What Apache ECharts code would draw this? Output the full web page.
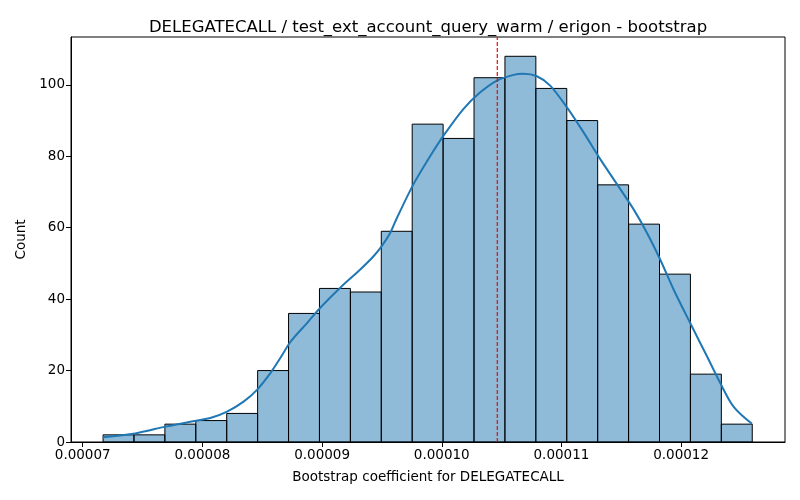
<!DOCTYPE html>
<html>
<head>
<meta charset="utf-8">
<script src="https://cdn.jsdelivr.net/npm/echarts@6/dist/echarts.min.js"></script>
<style>
  html, body { margin: 0; padding: 0; background: #fff; }
  #chart { width: 800px; height: 500px; }
</style>
</head>
<body>
<div id="chart"></div>
<script>
// histogram bins (equal width)
var binStart = 0.0000717;
var binWidth = 0.000002583;
var binCounts = [2, 2, 5, 6, 8, 20, 36, 43, 42, 59, 89, 85, 102, 108, 99, 90, 72, 61, 47, 19, 5];

// kde curve, x in units of 1e-5, y in counts
var kdeX = [7.170, 7.439, 7.690, 7.899, 8.066, 8.206, 8.344, 8.456, 8.568, 8.651, 8.735, 8.874,
            8.985, 9.152, 9.319, 9.430, 9.500, 9.570, 9.626, 9.764, 9.904, 10.015, 10.182, 10.322,
            10.461, 10.600, 10.683, 10.795, 10.906, 11.046, 11.185, 11.324, 11.464, 11.602, 11.714,
            11.825, 11.937, 12.076, 12.216, 12.327, 12.438, 12.592];
var kdeY = [1.3, 2.4, 4.3, 5.7, 6.7, 8.5, 11.3, 14.6, 19.3, 23.5, 28.0, 33.3,
            37.6, 43.2, 48.3, 52.0, 54.9, 58.6, 62.8, 72.2, 80.1, 85.8, 93.3, 97.9,
            101.2, 102.8, 103.1, 102.4, 99.8, 93.7, 86.7, 79.2, 72.2, 65.2, 58.6,
            51.1, 42.7, 33.3, 24.0, 16.5, 9.9, 5.1];

var meanLine = 0.00010464;

var xTicks = [0.00007, 0.00008, 0.00009, 0.00010, 0.00011, 0.00012];
var yTicks = [0, 20, 40, 60, 80, 100];

var yMax = 113.4;
var font = 'DejaVu Sans';

var barData = binCounts.map(function (c, i) {
    return [binStart + binWidth * i, binStart + binWidth * (i + 1), c];
});
var kdeData = kdeX.map(function (x, i) {
    return [x * 1e-5, kdeY[i]];
});

var chart = echarts.init(document.getElementById('chart'));

chart.setOption({
    animation: false,
    title: {
        text: 'DELEGATECALL / test_ext_account_query_warm / erigon - bootstrap',
        left: 423,
        top: 14,
        textAlign: 'center',
        textStyle: { fontFamily: font, fontSize: 16.5, fontWeight: 'normal', color: '#000' }
    },
    grid: {
        left: 71, right: 15, top: 37, bottom: 58,
        show: true, borderColor: '#000', borderWidth: 1, backgroundColor: 'transparent'
    },
    xAxis: {
        type: 'value',
        min: 0.00006902,
        max: 0.00012868,
        name: 'Bootstrap coefficient for DELEGATECALL',
        nameLocation: 'middle',
        nameGap: 28,
        nameTextStyle: { fontFamily: font, fontSize: 13.5, color: '#000' },
        axisLine: { show: true, lineStyle: { color: '#000', width: 1 } },
        axisTick: { show: true, inside: false, length: 5, lineStyle: { color: '#000' }, customValues: xTicks },
        axisLabel: {
            fontFamily: font, fontSize: 13.5, color: '#000', margin: 6,
            customValues: xTicks,
            formatter: function (v) { return v.toFixed(5); }
        },
        splitLine: { show: false }
    },
    yAxis: {
        type: 'value',
        min: 0,
        max: yMax,
        name: 'Count',
        nameLocation: 'middle',
        nameGap: 42,
        nameTextStyle: { fontFamily: font, fontSize: 13.5, color: '#000' },
        axisLine: { show: true, lineStyle: { color: '#000', width: 1 } },
        axisTick: { show: true, inside: false, length: 5, lineStyle: { color: '#000' }, customValues: yTicks },
        axisLabel: { fontFamily: font, fontSize: 13.5, color: '#000', margin: 6, customValues: yTicks },
        splitLine: { show: false }
    },
    series: [
        {
            type: 'custom',
            data: barData,
            z: 2,
            renderItem: function (params, api) {
                var p0 = api.coord([api.value(0), api.value(2)]);
                var p1 = api.coord([api.value(1), 0]);
                return {
                    type: 'rect',
                    shape: { x: p0[0], y: p0[1], width: p1[0] - p0[0], height: p1[1] - p0[1] },
                    style: { fill: 'rgba(31,119,180,0.5)', stroke: '#000', lineWidth: 1 }
                };
            }
        },
        {
            type: 'line',
            data: kdeData,
            smooth: 0.3,
            showSymbol: false,
            z: 3,
            lineStyle: { color: '#1f77b4', width: 2 }
        },
        {
            // vertical dashed reference line
            type: 'line',
            data: [[meanLine, 0], [meanLine, yMax]],
            showSymbol: false,
            z: 4,
            lineStyle: { color: '#ff0000', type: [4, 2], width: 1.2 }
        }
    ]
});
</script>
</body>
</html>
